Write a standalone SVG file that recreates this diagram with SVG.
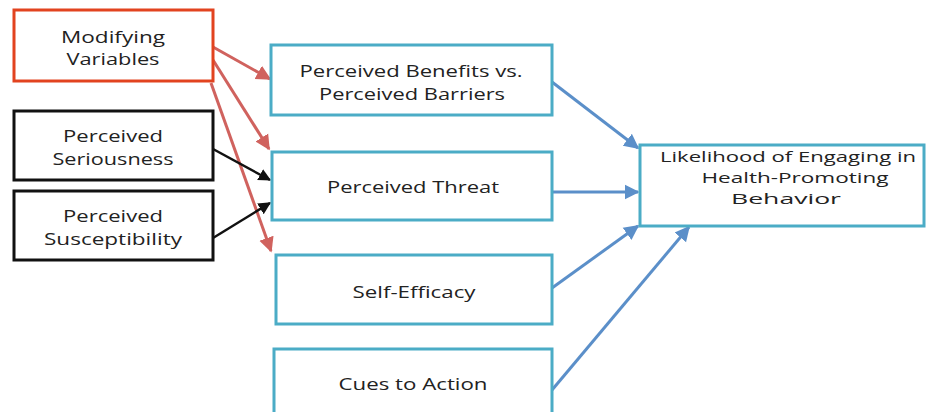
<svg xmlns="http://www.w3.org/2000/svg" width="927" height="412" viewBox="0 0 927 412">
<style>
.box{fill:#fff;stroke-width:3}
.teal{stroke:#4bacc6}
.blk{stroke:#111}
.red{stroke:#e2431f}
text{font-family:"Open Sans","Liberation Sans",sans-serif;font-size:17px;fill:#222;text-anchor:middle}
.sm{font-size:15px}
.c{fill:none;stroke-width:3}
.cr{stroke:#d0625e}
.cb{stroke:#111;stroke-width:2.5}
.cu{stroke:#5b8fc9}
</style>
<defs>
<marker id="ar" markerWidth="6" markerHeight="6" refX="4.5" refY="3" orient="auto" markerUnits="strokeWidth"><path d="M0,0.5 L5,3 L0,5.5 Z" fill="#d0625e"/></marker>
<marker id="ab" markerWidth="6" markerHeight="6" refX="4.5" refY="3" orient="auto" markerUnits="strokeWidth"><path d="M0,0.5 L5,3 L0,5.5 Z" fill="#111"/></marker>
<marker id="au" markerWidth="6" markerHeight="6" refX="4.5" refY="3" orient="auto" markerUnits="strokeWidth"><path d="M0,0.5 L5,3 L0,5.5 Z" fill="#5b8fc9"/></marker>
</defs>
<rect width="927" height="412" fill="#fff"/>
<g id="connectors">
<line class="c cr" x1="213" y1="47" x2="270" y2="79" marker-end="url(#ar)"/>
<line class="c cr" x1="213" y1="60" x2="269" y2="149" marker-end="url(#ar)"/>
<line class="c cr" x1="211" y1="83" x2="271" y2="251" marker-end="url(#ar)"/>
<line class="c cb" x1="213" y1="149" x2="270" y2="180" marker-end="url(#ab)"/>
<line class="c cb" x1="213" y1="238" x2="270" y2="203" marker-end="url(#ab)"/>
<line class="c cu" x1="552" y1="82" x2="638" y2="148" marker-end="url(#au)"/>
<line class="c cu" x1="552" y1="192" x2="638" y2="192" marker-end="url(#au)"/>
<line class="c cu" x1="552" y1="288" x2="638" y2="226" marker-end="url(#au)"/>
<line class="c cu" x1="552" y1="390" x2="689" y2="227" marker-end="url(#au)"/>
</g>
<g id="modifying">
<rect class="box red" x="14" y="10" width="199" height="71"/>
<text x="113" y="43" textLength="104" lengthAdjust="spacingAndGlyphs">Modifying</text>
<text x="113" y="65" textLength="93" lengthAdjust="spacingAndGlyphs">Variables</text>
</g>
<g id="seriousness">
<rect class="box blk" x="14" y="111" width="199" height="69"/>
<text x="113" y="142" textLength="100" lengthAdjust="spacingAndGlyphs">Perceived</text>
<text x="113" y="165" textLength="121" lengthAdjust="spacingAndGlyphs">Seriousness</text>
</g>
<g id="susceptibility">
<rect class="box blk" x="14" y="191" width="199" height="69"/>
<text x="113" y="222" textLength="100" lengthAdjust="spacingAndGlyphs">Perceived</text>
<text x="113" y="245" textLength="138" lengthAdjust="spacingAndGlyphs">Susceptibility</text>
</g>
<g id="benefits">
<rect class="box teal" x="271" y="45" width="281" height="70"/>
<text x="411" y="77" textLength="223" lengthAdjust="spacingAndGlyphs">Perceived Benefits vs.</text>
<text x="412" y="100" textLength="186" lengthAdjust="spacingAndGlyphs">Perceived Barriers</text>
</g>
<g id="threat">
<rect class="box teal" x="272" y="152" width="280" height="68"/>
<text x="413" y="193" textLength="172" lengthAdjust="spacingAndGlyphs">Perceived Threat</text>
</g>
<g id="selfefficacy">
<rect class="box teal" x="276" y="255" width="276" height="69"/>
<text x="414" y="298" textLength="123" lengthAdjust="spacingAndGlyphs">Self-Efficacy</text>
</g>
<g id="cues">
<rect class="box teal" x="274" y="349" width="278" height="70"/>
<text x="413" y="390" textLength="149" lengthAdjust="spacingAndGlyphs">Cues to Action</text>
</g>
<g id="likelihood">
<rect class="box teal" x="640" y="145" width="284" height="81"/>
<text class="sm" x="788" y="162" textLength="256" lengthAdjust="spacingAndGlyphs">Likelihood of Engaging in</text>
<text class="sm" x="795" y="183" textLength="187" lengthAdjust="spacingAndGlyphs">Health-Promoting</text>
<text class="sm" x="786" y="204" textLength="110" lengthAdjust="spacingAndGlyphs">Behavior</text>
</g>
</svg>
